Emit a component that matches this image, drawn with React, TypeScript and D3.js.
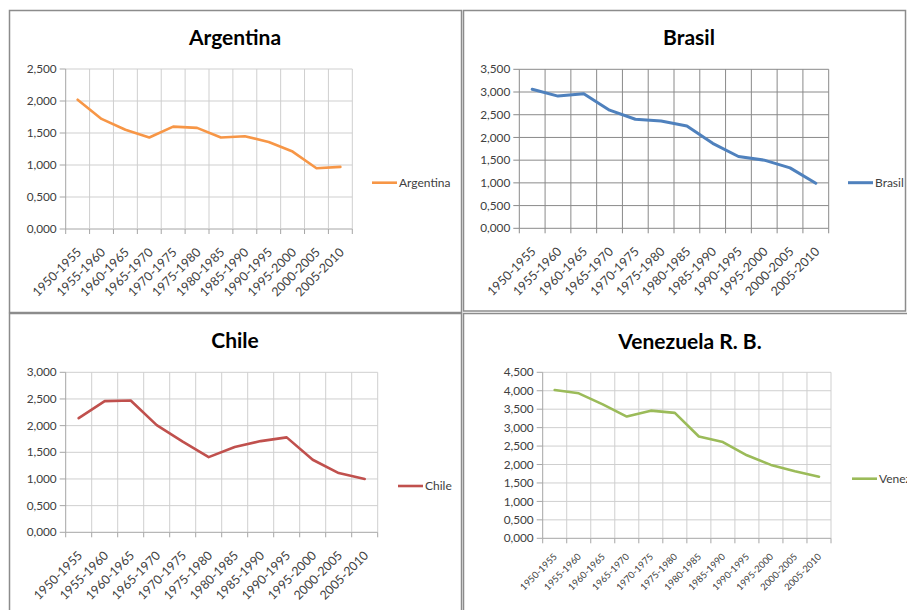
import React from "react";
import * as d3 from "d3";

// Five-year periods shared by every panel
const periods = [
  "1950-1955", "1955-1960", "1960-1965", "1965-1970", "1970-1975", "1975-1980",
  "1980-1985", "1985-1990", "1990-1995", "1995-2000", "2000-2005", "2005-2010",
];

// Series values per country
const argentinaValues = [2.02, 1.72, 1.55, 1.43, 1.6, 1.58, 1.43, 1.45, 1.36, 1.21, 0.95, 0.97];
const brasilValues = [3.06, 2.91, 2.96, 2.6, 2.4, 2.36, 2.25, 1.87, 1.58, 1.5, 1.33, 0.99];
const chileValues = [2.14, 2.46, 2.47, 2.01, 1.7, 1.41, 1.6, 1.71, 1.78, 1.36, 1.11, 1.0];
const venezuelaValues = [4.02, 3.93, 3.63, 3.3, 3.46, 3.4, 2.76, 2.61, 2.25, 1.99, 1.82, 1.67];

// Y tick values per panel
const argentinaTicks = [0, 0.5, 1, 1.5, 2, 2.5];
const brasilTicks = [0, 0.5, 1, 1.5, 2, 2.5, 3, 3.5];
const chileTicks = [0, 0.5, 1, 1.5, 2, 2.5, 3];
const venezuelaTicks = [0, 0.5, 1, 1.5, 2, 2.5, 3, 3.5, 4, 4.5];

const esLocale = d3.formatLocale({
  decimal: ",",
  thousands: ".",
  grouping: [3],
  currency: ["", ""],
});
const fmt = esLocale.format(".3f");

const FONT = "Lato, 'Open Sans', sans-serif";

type PanelProps = {
  name: string;
  values: number[];
  ticks: number[];
  color: string;
  strokeWidth: number;
  frame: { x: number; y: number; w: number; h: number };
  plot: { left: number; right: number; top: number; bottom: number };
  titleX: number;
  titleY: number;
  legendX: number;
  legendY: number;
  gridColor: string;
  axisColor: string;
  xLabelSize: number;
  xLabelDx: number;
  xLabelDy: number;
};

function Panel(p: PanelProps) {
  const { plot } = p;
  const x = d3
    .scaleBand<string>()
    .domain(periods)
    .range([plot.left, plot.right])
    .paddingInner(0)
    .paddingOuter(0);
  const y = d3
    .scaleLinear()
    .domain([0, d3.max(p.ticks) as number])
    .range([plot.bottom, plot.top]);

  const line = d3
    .line<number>()
    .x((_, i) => (x(periods[i]) as number) + x.bandwidth() / 2)
    .y((v) => y(v));

  const boundaries = periods.map((d) => x(d) as number).concat([plot.right]);

  return (
    <g>
      <rect
        x={p.frame.x}
        y={p.frame.y}
        width={p.frame.w}
        height={p.frame.h}
        fill="#fff"
        stroke="#8c8c8c"
        strokeWidth={1.5}
      />
      <text
        x={p.titleX}
        y={p.titleY}
        textAnchor="middle"
        fontFamily={FONT}
        fontWeight={700}
        fontSize={21}
        fill="#000"
      >
        {p.name}
      </text>

      {/* horizontal gridlines */}
      {p.ticks.map((t) => (
        <line
          key={"h" + t}
          x1={plot.left}
          x2={plot.right}
          y1={y(t)}
          y2={y(t)}
          stroke={t === 0 ? p.axisColor : p.gridColor}
          strokeWidth={1}
        />
      ))}
      {/* vertical gridlines with tick marks below the axis */}
      {boundaries.map((bx, i) => (
        <g key={"v" + i}>
          <line x1={bx} x2={bx} y1={plot.top} y2={plot.bottom} stroke={i === 0 ? p.axisColor : p.gridColor} strokeWidth={1} />
          <line x1={bx} x2={bx} y1={plot.bottom} y2={plot.bottom + 5} stroke={p.axisColor} strokeWidth={1} />
        </g>
      ))}

      {/* y axis tick marks and labels */}
      {p.ticks.map((t) => (
        <g key={"yt" + t}>
          <line x1={plot.left - 6} x2={plot.left} y1={y(t)} y2={y(t)} stroke={p.axisColor} strokeWidth={1} />
          <text
            x={plot.left - 9}
            y={y(t)}
            dy="0.35em"
            textAnchor="end"
            fontFamily={FONT}
            fontSize={11.8}
            fill="#404040"
          >
            {fmt(t)}
          </text>
        </g>
      ))}

      {/* x axis labels, rotated */}
      {periods.map((d) => {
        const cx = (x(d) as number) + x.bandwidth() / 2 + p.xLabelDx;
        const cy = plot.bottom + p.xLabelDy;
        return (
          <text
            key={"xl" + d}
            transform={`translate(${cx},${cy}) rotate(-45)`}
            textAnchor="end"
            fontFamily={FONT}
            fontSize={p.xLabelSize}
            fill="#404040"
          >
            {d}
          </text>
        );
      })}

      <path
        d={line(p.values) || ""}
        fill="none"
        stroke={p.color}
        strokeWidth={p.strokeWidth}
        strokeLinejoin="round"
        strokeLinecap="round"
      />

      {/* legend */}
      <line
        x1={p.legendX}
        x2={p.legendX + 25}
        y1={p.legendY}
        y2={p.legendY}
        stroke={p.color}
        strokeWidth={p.strokeWidth}
      />
      <text
        x={p.legendX + 27}
        y={p.legendY}
        dy="0.35em"
        fontFamily={FONT}
        fontSize={12}
        fill="#404040"
      >
        {p.name}
      </text>
    </g>
  );
}

export default function App() {
  return (
    <svg
      width={907}
      height={610}
      style={{ position: "absolute", left: 0, top: 0, background: "#fff" }}
    >
      <Panel
        name="Argentina"
        values={argentinaValues}
        ticks={argentinaTicks}
        color="#f79646"
        strokeWidth={2.6}
        frame={{ x: 9.5, y: 10.5, w: 452, h: 302 }}
        plot={{ left: 65.7, right: 352.3, top: 69, bottom: 229 }}
        titleX={235}
        titleY={45}
        legendX={372}
        legendY={182.7}
        gridColor="#cfcfcf"
        axisColor="#a6a6a6"
        xLabelSize={12.5}
        xLabelDx={4.5}
        xLabelDy={24}
      />
      <Panel
        name="Brasil"
        values={brasilValues}
        ticks={brasilTicks}
        color="#4f81bd"
        strokeWidth={3}
        frame={{ x: 463.5, y: 10.5, w: 442, h: 300.5 }}
        plot={{ left: 519.3, right: 828.7, top: 69.3, bottom: 228.3 }}
        titleX={689}
        titleY={45}
        legendX={848}
        legendY={182.7}
        gridColor="#8a8a8a"
        axisColor="#8a8a8a"
        xLabelSize={12.5}
        xLabelDx={4.5}
        xLabelDy={24}
      />
      <Panel
        name="Chile"
        values={chileValues}
        ticks={chileTicks}
        color="#c0504d"
        strokeWidth={2.6}
        frame={{ x: 9.5, y: 313.5, w: 452, h: 310 }}
        plot={{ left: 65.7, right: 377.7, top: 372.3, bottom: 532.3 }}
        titleX={235}
        titleY={348.3}
        legendX={398}
        legendY={486}
        gridColor="#cfcfcf"
        axisColor="#a6a6a6"
        xLabelSize={12.5}
        xLabelDx={4.5}
        xLabelDy={24}
      />
      <Panel
        name="Venezuela R. B."
        values={venezuelaValues}
        ticks={venezuelaTicks}
        color="#9bbb59"
        strokeWidth={2.6}
        frame={{ x: 463.5, y: 313.5, w: 470, h: 310 }}
        plot={{ left: 542.7, right: 831, top: 372.3, bottom: 538.3 }}
        titleX={690}
        titleY={349}
        legendX={852}
        legendY={478.7}
        gridColor="#cfcfcf"
        axisColor="#a6a6a6"
        xLabelSize={9.5}
        xLabelDx={3}
        xLabelDy={19}
      />
    </svg>
  );
}
